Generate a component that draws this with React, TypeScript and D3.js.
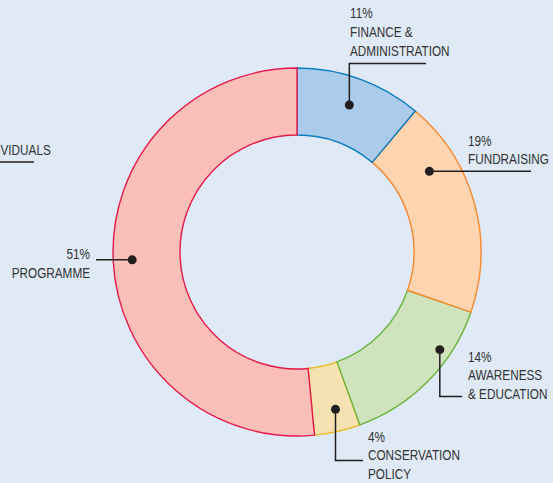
import React, { useEffect, useRef } from 'react';
import * as d3 from 'd3';

// budget split, clockwise from 12 o'clock
const categories = ['FINANCE & ADMINISTRATION', 'FUNDRAISING', 'AWARENESS & EDUCATION', 'CONSERVATION POLICY', 'PROGRAMME'];
const values = [11, 19, 14, 4, 51];
const labelLines = [
  ['FINANCE &', 'ADMINISTRATION'],
  ['FUNDRAISING'],
  ['AWARENESS', '& EDUCATION'],
  ['CONSERVATION', 'POLICY'],
  ['PROGRAMME'],
];
const fills = ['#abcbea', '#fed5b0', '#cfe3bd', '#f6e1b2', '#fbbfba'];
const strokes = ['#0c7bc0', '#f7882f', '#6cb33e', '#e9b81c', '#e6194b'];

const width = 553;
const height = 483;

export default function App() {
  const ref = useRef<SVGSVGElement>(null);

  useEffect(() => {
    document.body.style.margin = '0';
    const svg = d3.select(ref.current);
    svg.selectAll('*').remove();

    svg.append('rect').attr('width', width).attr('height', height).attr('fill', '#dfeaf6');

    const cx = 297, cy = 252;
    const outerR = 184, innerR = 117;

    const pie = d3.pie<number>().sort(null).value(d => d);
    const arcs = pie(values);
    const arc = d3.arc<d3.PieArcDatum<number>>().innerRadius(innerR).outerRadius(outerR);

    const g = svg.append('g').attr('transform', `translate(${cx},${cy})`);

    // which outline sits on top at each boundary
    const drawOrder = [3, 2, 1, 0, 4];
    drawOrder.forEach(i => {
      g.append('path')
        .attr('d', arc(arcs[i]) as string)
        .attr('fill', fills[i])
        .attr('stroke', strokes[i])
        .attr('stroke-width', 1.4);
    });

    // dot positions: fraction through the slice, and radius
    const anchors = [
      { t: 0.49, r: 156 },
      { t: 0.27, r: 155 },
      { t: 0.3, r: 173 },
      { t: 0.43, r: 162 },
      { t: 0.5, r: 165 },
    ];
    const pt = (i: number) => {
      const a = arcs[i];
      const ang = a.startAngle + (a.endAngle - a.startAngle) * anchors[i].t;
      return [cx + anchors[i].r * Math.sin(ang), cy - anchors[i].r * Math.cos(ang)];
    };

    const ink = '#231f20';
    const ann = svg.append('g');

    const line = (pts: number[][]) => {
      ann.append('path')
        .attr('d', d3.line()(pts as [number, number][]) as string)
        .attr('fill', 'none')
        .attr('stroke', ink)
        .attr('stroke-width', 1.5);
    };
    // narrow face: Liberation Sans squeezed horizontally
    const text = (x: number, y: number, lines: string[], anchor = 'start') => {
      const t = ann.append('g')
        .attr('transform', `translate(${x},${y}) scale(0.84,1)`)
        .append('text')
        .attr('text-anchor', anchor)
        .attr('font-family', "'Liberation Sans', Arial, sans-serif")
        .attr('font-size', 14)
        .attr('fill', '#333333');
      lines.forEach((l, k) => {
        t.append('tspan').attr('x', 0).attr('y', k * 18.8).text(l);
      });
    };
    const pct = (i: number) => `${values[i]}%`;

    // finance
    let [x, y] = pt(0);
    line([[x, y], [x, 63.5], [426, 63.5]]);
    text(350, 18, [pct(0), ...labelLines[0]]);

    // fundraising
    [x, y] = pt(1);
    line([[x, y], [531, y]]);
    text(468, 145.5, [pct(1), ...labelLines[1]]);

    // awareness
    [x, y] = pt(2);
    line([[x, y], [x, 396.5], [462, 396.5]]);
    text(468, 361.5, [pct(2), ...labelLines[2]]);

    // conservation
    [x, y] = pt(3);
    line([[x, y], [x, 460.5], [363, 460.5]]);
    text(368, 441.5, [pct(3), ...labelLines[3]]);

    // programme
    [x, y] = pt(4);
    line([[x, y], [96, y]]);
    text(90, 259, [pct(4), ...labelLines[4]], 'end');

    // tail of a label from the neighbouring chart, cut by the frame
    line([[-20, 162], [34, 162]]);
    text(0.5, 155, ['VIDUALS']);

    for (let i = 0; i < values.length; i++) {
      const [px, py] = pt(i);
      ann.append('circle').attr('cx', px).attr('cy', py).attr('r', 4.5).attr('fill', ink);
    }
  }, []);

  return <svg ref={ref} width={width} height={height} style={{ display: 'block' }} />;
}
